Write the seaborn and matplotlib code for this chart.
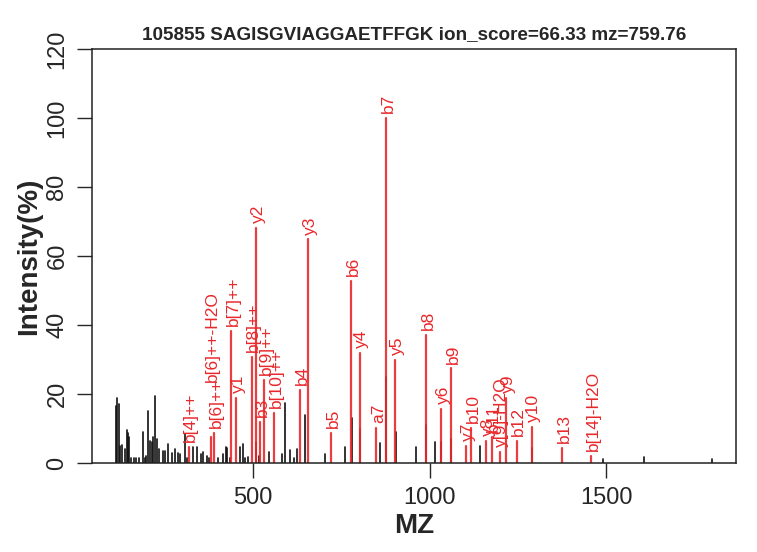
"""MS/MS spectrum plot for 105855 SAGISGVIAGGAETFFGK"""
import numpy as np
import pandas as pd
import matplotlib
matplotlib.use("Agg")
import matplotlib.pyplot as plt
import seaborn as sns

title = "105855 SAGISGVIAGGAETFFGK ion_score=66.33 mz=759.76"

# matched fragment ions (red)
ion_labels = ["b[4]++", "b[6]++-H2O", "b[6]++", "b[7]++", "y1", "b[8]++", "y2", "b3",
              "b[9]++", "b[10]++", "b4", "y3", "b5", "b6", "y4", "a7", "b7", "y5",
              "b8", "y6", "b9", "y7", "b10", "y8", "b11", "y[9]-H2O", "y9", "b12",
              "y10", "b13", "b[14]-H2O"]
ion_mz = [318.0, 380.5, 389.5, 439.0, 452.0, 496.0, 508.5, 521.0,
          531.0, 560.0, 634.0, 655.5, 721.0, 778.0, 802.5, 849.0, 877.0, 903.6,
          990.0, 1032.6, 1061.0, 1103.7, 1118.4, 1160.7, 1176.0, 1199.0, 1217.0, 1247.0,
          1288.8, 1375.0, 1458.0]
ion_int = [4.7, 7.5, 8.7, 38.3, 18.8, 30.7, 68.1, 12.0,
           24.2, 14.4, 21.3, 64.8, 8.7, 52.8, 31.8, 10.2, 100.0, 30.0,
           37.1, 15.7, 27.4, 5.0, 10.2, 6.4, 7.6, 3.2, 18.8, 6.4,
           10.5, 4.4, 2.0]

# unmatched peaks (black)
peak_mz = [111.9, 115.6, 119.5, 124.6, 130.3, 136.5, 142.2, 145.0, 149.6, 155.2,
           162.0, 169.4, 176.2, 187.5, 193.2, 197.7, 203.4, 209.0, 213.0, 216.7,
           223.8, 228.9, 233.7, 244.0, 251.6, 259.2, 269.7, 280.0, 288.4, 293.2,
           306.5, 313.0, 329.0, 341.4, 352.7, 359.2, 368.8, 375.4, 401.7, 415.0,
           422.7, 427.2, 434.8, 464.0, 470.8, 477.3, 485.8, 509.5, 518.4, 546.0,
           581.0, 589.8, 605.7, 616.0, 623.8, 647.3, 704.0, 760.6, 779.0, 803.5,
           858.9, 878.0, 904.6, 961.8, 991.0, 1015.6, 1033.6, 1062.0, 1143.0, 1289.8,
           1490.6, 1607.6, 1799.4]
peak_int = [16.5, 18.7, 17.0, 5.0, 5.3, 4.0, 9.5, 8.8, 7.5, 1.5,
            1.5, 1.5, 1.5, 8.9, 1.5, 2.0, 15.0, 6.4, 6.0, 7.5,
            19.4, 7.0, 4.0, 3.5, 3.5, 5.5, 3.0, 4.0, 3.0, 2.5,
            8.3, 1.5, 4.5, 4.5, 2.5, 3.3, 2.0, 1.5, 1.5, 2.5,
            4.5, 4.3, 1.5, 4.5, 5.5, 1.5, 1.8, 6.0, 2.0, 3.3,
            2.5, 17.3, 3.8, 1.5, 4.0, 13.8, 2.5, 4.7, 13.0, 10.0,
            5.9, 25.0, 9.0, 4.7, 11.0, 6.2, 6.0, 7.0, 4.9, 4.3,
            1.3, 1.8, 1.3]


def stick_frame(mz, inten, kind):
    # each peak becomes a two-point line from the baseline up to its intensity
    rows = []
    for i, (m, h) in enumerate(zip(mz, inten)):
        rows.append({"mz": m, "int": 0.0, "peak": f"{kind}{i}", "kind": kind})
        rows.append({"mz": m, "int": h, "peak": f"{kind}{i}", "kind": kind})
    return pd.DataFrame(rows)


df = pd.concat([stick_frame(peak_mz, peak_int, "other"),
                stick_frame(ion_mz, ion_int, "ion")], ignore_index=True)

sns.set_style("ticks")
plt.rcParams["font.family"] = ["Liberation Sans", "DejaVu Sans"]

red = "#E8282B"
fig = plt.figure(figsize=(7.57, 5.52), dpi=100)
ax = fig.add_axes([92 / 757, 89 / 552, 644 / 757, 414 / 552])

sns.lineplot(data=df[df["kind"] == "other"], x="mz", y="int", units="peak",
             estimator=None, sort=False, color="#111111", lw=1.2, ax=ax)
sns.lineplot(data=df[df["kind"] == "ion"], x="mz", y="int", units="peak",
             estimator=None, sort=False, color=red, lw=1.6, alpha=0.9, ax=ax)

# labels that collide get pushed up (in intensity units)
lift = {"b[6]++-H2O": 14.5}
for lab, m, h in zip(ion_labels, ion_mz, ion_int):
    ax.annotate(lab, (m, h + lift.get(lab, 0)), xytext=(1.5, 3.5), textcoords="offset points",
                rotation=90, ha="center", va="bottom", color=red, fontsize=12.5)

ax.set_xlim(44, 1868)
ax.set_ylim(0, 120)
ax.set_xticks([500, 1000, 1500])
ax.set_yticks(np.arange(0, 121, 20))
for s in ax.spines.values():
    s.set_visible(True)
    s.set_linewidth(1.1)
    s.set_color("#222222")
ax.tick_params(direction="out", length=11, width=1.0, labelsize=17, pad=6)
plt.setp(ax.get_yticklabels(), rotation=90, va="center")
ax.set_xlabel("MZ", fontsize=20, fontweight="bold", labelpad=3)
ax.set_ylabel("Intensity(%)", fontsize=20, fontweight="bold", labelpad=3)
ax.set_title(title, fontsize=13.6, fontweight="bold", pad=7.5)

fig.savefig("out.png", dpi=100)
